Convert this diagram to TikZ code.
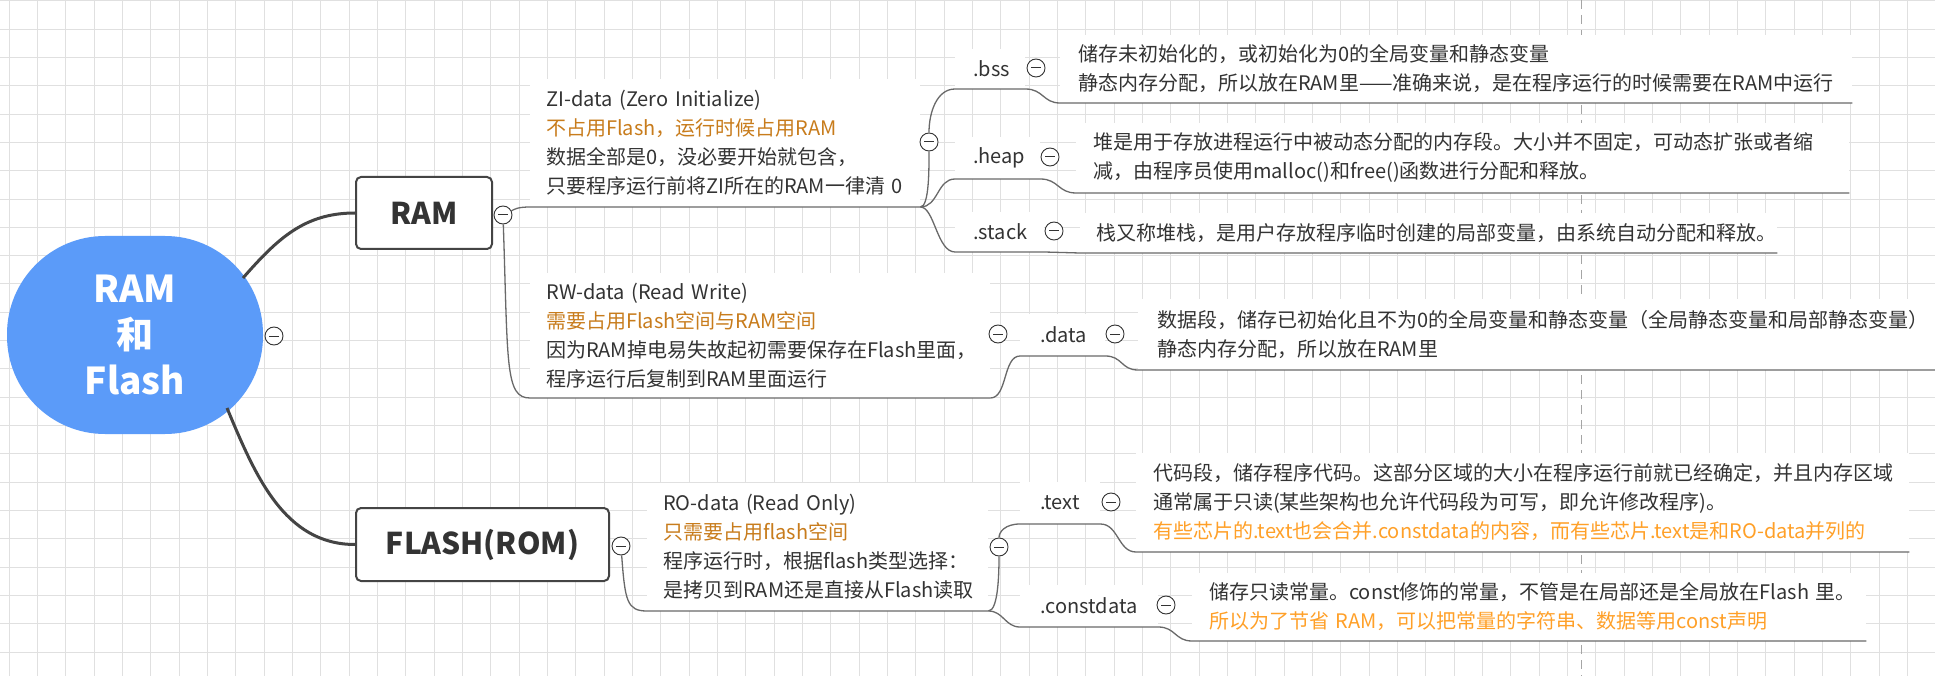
\documentclass[tikz,border=0pt]{standalone}
\usepackage{fontspec}
\setmainfont{Noto Sans CJK SC}
\usepackage{tikz}
\usetikzlibrary{positioning}
\definecolor{ink}{RGB}{51,51,51}
\definecolor{ochre}{RGB}{200,124,28}
\definecolor{amber}{RGB}{255,160,40}
\definecolor{hubblue}{RGB}{91,155,249}
\definecolor{gridgray}{RGB}{224,224,224}
\definecolor{guidegray}{RGB}{165,165,165}
\definecolor{linegray}{RGB}{105,105,105}
\definecolor{trunkgray}{RGB}{68,68,68}
\newcommand\bodyfont{\fontsize{20}{29}\selectfont}
\newcommand\boxfont{\bfseries\fontsize{30}{36}\selectfont}
\newcommand\hubfont{\bfseries\fontsize{37}{46}\selectfont}
\tikzset{
  hub/.style={fill=hubblue, rounded corners=98pt, minimum width=256pt, minimum height=198pt,
    align=center, text=white, font=\hubfont, inner sep=0pt},
  mainbox/.style={draw=trunkgray, line width=2pt, rounded corners=5pt, fill=white,
    text=ink, font=\boxfont, inner sep=0pt},
  topic/.style={fill=white, anchor=south west, inner xsep=16pt, inner ysep=0pt,
    align=left, text=ink, font=\bodyfont},
  leaf/.style={topic, inner xsep=18pt},
  foldbtn/.style={circle, draw=ink, fill=white, line width=0.9pt, minimum size=18pt, inner sep=0pt,
    path picture={\draw[ink, line width=1pt] ([xshift=-5pt]path picture bounding box.center)
      -- ([xshift=5pt]path picture bounding box.center);}},
  trunk/.style={trunkgray, line width=3pt},
  branch/.style={linegray, line width=1.3pt},
  gridline/.style={gridgray, line width=1pt},
  guide/.style={guidegray, line width=1pt, dash pattern=on 9pt off 6pt}
}

\begin{document}
\begin{tikzpicture}[x=1pt, y=-1pt]
\useasboundingbox (0,0) rectangle (1935,676);
\fill[white] (0,0) rectangle (1935,676);
% background grid
\foreach \i in {0,...,68}
  \draw[gridline] ({9.3+28.33*\i},0) -- ++(0,676);
\foreach \j in {0,...,23}
  \draw[gridline] (0,{0.7+28.33*\j}) -- ++(1935,0);
\draw[guide] (1581,0) -- (1581,676);

% main topics
\node[hub] (hub) at (135,335) {RAM\\和\\Flash};
\node[mainbox, minimum width=136pt, minimum height=72pt] (ram) at (424,213) {RAM};
\node[mainbox, minimum width=253pt, minimum height=73pt] (flash) at (482.5,544.5) {FLASH(ROM)};
\coordinate (hubne) at (243,278);
\coordinate (hubse) at (227,408);

% RAM side
\node[topic, text width=358pt, minimum height=128pt] (zi) at (530,207)
  {ZI-data (Zero Initialize)\\\textcolor{ochre}{不占用Flash，运行时候占用RAM}\\数据全部是0，没必要开始就包含，\\只要程序运行前将ZI所在的RAM一律清~0};
\node[topic, text width=428pt, minimum height=125pt] (rw) at (530,398)
  {RW-data (Read Write)\\\textcolor{ochre}{需要占用Flash空间与RAM空间}\\因为RAM掉电易失故起初需要保存在Flash里面，\\程序运行后复制到RAM里面运行};
\node[leaf, text width=34pt, minimum height=40pt] (bss) at (955,89) {.bss};
\node[leaf, text width=49pt, minimum height=42pt] (heap) at (955,179) {.heap};
\node[leaf, text width=53pt, minimum height=40pt] (stack) at (955,252) {.stack};
\node[leaf, inner xsep=20pt, text width=45pt, minimum height=42pt] (data) at (1020,356) {.data};
\node[leaf, text width=756pt, minimum height=68pt] (bssd) at (1060,103)
  {储存未初始化的，或初始化为0的全局变量和静态变量\\静态内存分配，所以放在RAM里——准确来说，是在程序运行的时候需要在RAM中运行};
\node[leaf, inner xsep=17pt, text width=739pt, minimum height=70pt] (heapd) at (1076,193)
  {堆是用于存放进程运行中被动态分配的内存段。大小并不固定，可动态扩张或者缩\\减，由程序员使用malloc()和free()函数进行分配和释放。};
\node[leaf, inner xsep=16pt, text width=665pt, minimum height=40pt] (stackd) at (1080,253)
  {栈又称堆栈，是用户存放程序临时创建的局部变量，由系统自动分配和释放。};
\node[leaf, inner xsep=19pt, text width=759pt, minimum height=71pt] (datad) at (1138,370)
  {数据段，储存已初始化且不为0的全局变量和静态变量（全局静态变量和局部静态变量）\\静态内存分配，所以放在RAM里};

% FLASH side
\node[topic, text width=309pt, minimum height=128pt] (ro) at (647,611)
  {RO-data (Read Only)\\\textcolor{ochre}{只需要占用flash空间}\\程序运行时，根据flash类型选择：\\是拷贝到RAM还是直接从Flash读取};
\node[leaf, inner xsep=20pt, text width=40pt, minimum height=42pt] (text) at (1020,524) {.text};
\node[leaf, inner xsep=20pt, text width=98pt, minimum height=42pt] (cdata) at (1020,627) {.constdata};
\node[leaf, inner xsep=17pt, text width=739pt, minimum height=99pt] (textd) at (1136,552)
  {代码段，储存程序代码。这部分区域的大小在程序运行前就已经确定，并且内存区域\\通常属于只读(某些架构也允许代码段为可写，即允许修改程序)。\\\textcolor{amber}{有些芯片的.text也会合并.constdata的内容，而有些芯片.text是和RO-data并列的}};
\node[leaf, inner xsep=17pt, text width=640pt, minimum height=68pt] (cdatad) at (1192,641)
  {储存只读常量。const修饰的常量，不管是在局部还是全局放在Flash~里。\\\textcolor{amber}{所以为了节省~RAM，可以把常量的字符串、数据等用const声明}};

% fold buttons
\node[foldbtn] (hubfb) at (274,336) {};
\node[foldbtn] (ramfb) at (503,215) {};
\node[foldbtn] (flashfb) at (621,546) {};
\node[foldbtn] (zifb) at (929,142) {};
\node[foldbtn] (rwfb) at (998,334) {};
\node[foldbtn] (rofb) at (999,547) {};
\node[foldbtn] (bssfb) at (1036,68) {};
\node[foldbtn] (heapfb) at (1050,157) {};
\node[foldbtn] (stackfb) at (1054,231) {};
\node[foldbtn] (datafb) at (1115,334) {};
\node[foldbtn] (textfb) at (1111,502) {};
\node[foldbtn] (cdatafb) at (1166,605) {};

% connectors
\draw[trunk] (hubne) .. controls +(35,-40) and +(-50,0) .. (ram.west);
\draw[trunk] (hubse) .. controls +(28,67) and +(-71,0) .. (flash.west);
\draw[branch] (ramfb) .. controls +(12,-6) and +(-12,0) .. (zi.south west) -- (zi.south east);
\draw[branch] (ramfb) .. controls +(5,150) and +(-25,0) .. (rw.south west) -- (rw.south east);
\draw[branch] (flashfb) .. controls +(4,55) and +(-20,0) .. (ro.south west) -- (ro.south east);
\draw[branch] (zi.south east) .. controls +(9,0) and +(0,25) .. (zifb)
  .. controls +(0,-30) and +(-18,0) .. (bss.south west) -- (bss.south east)
  .. controls +(18,0) and +(-17,0) .. (bssd.south west) -- (bssd.south east);
\draw[branch] (zi.south east) .. controls +(18,0) and +(-18,0) .. (heap.south west) -- (heap.south east)
  .. controls +(18,0) and +(-18,0) .. (heapd.south west) -- (heapd.south east);
\draw[branch] (zi.south east) .. controls +(14,0) and +(-18,0) .. (stack.south west) -- (stack.south east)
  -- (stackd.south west) -- (stackd.south east);
\draw[branch] (rw.south east) .. controls +(17,0) and +(-17,0) .. (data.south west) -- (data.south east)
  .. controls +(17,0) and +(-17,0) .. (datad.south west) -- (datad.south east);
\draw[branch] (ro.south east) .. controls +(10,0) and +(0,25) .. (rofb)
  .. controls +(0,-15) and +(-15,0) .. (text.south west) -- (text.south east)
  .. controls +(18,0) and +(-18,0) .. (textd.south west) -- (textd.south east);
\draw[branch] (ro.south east) .. controls +(15,0) and +(-15,0) .. (cdata.south west) -- (cdata.south east)
  .. controls +(17,0) and +(-17,0) .. (cdatad.south west) -- (cdatad.south east);
\end{tikzpicture}
\end{document}
